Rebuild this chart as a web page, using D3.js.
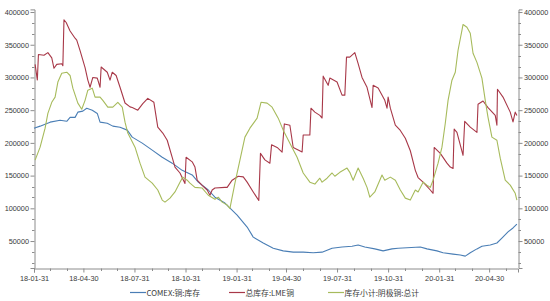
<!DOCTYPE html>
<html><head><meta charset="utf-8">
<script src="https://cdn.jsdelivr.net/npm/d3@7"></script>
<style>body{margin:0;background:#fff}svg{display:block}</style>
</head><body>
<script>
// ---- data ----
const comexDates = ["2018-01-31","2018-02-11","2018-03-01","2018-03-19","2018-03-31","2018-04-06","2018-04-15","2018-04-20","2018-04-29","2018-05-06","2018-05-16","2018-05-25","2018-05-30","2018-06-12","2018-06-22","2018-07-05","2018-07-18","2018-07-27","2018-08-14","2018-09-01","2018-09-19","2018-10-07","2018-10-25","2018-11-12","2018-11-23","2018-12-11","2018-12-23","2019-01-10","2019-02-01","2019-02-19","2019-03-02","2019-03-20","2019-04-07","2019-04-25","2019-05-13","2019-05-31","2019-06-18","2019-07-04","2019-07-22","2019-08-09","2019-08-27","2019-09-07","2019-09-19","2019-10-07","2019-10-22","2019-11-07","2019-11-18","2019-12-28","2020-01-09","2020-01-27","2020-02-07","2020-02-25","2020-03-09","2020-03-18","2020-03-27","2020-04-08","2020-04-17","2020-05-02","2020-05-14","2020-05-23","2020-06-03","2020-06-12","2020-06-19"];
const comexValues = [222500,225600,231700,234700,233000,239000,239000,247000,248500,253000,250000,245000,231700,230000,225600,224000,219500,208800,199600,189000,178000,169000,158000,151000,140000,128000,117000,108000,89700,71400,56000,47000,39000,35000,33000,33000,32000,33000,39000,41000,42000,44000,41000,38000,35000,38000,39000,41000,38000,35000,32000,30000,28600,27000,32000,38000,42000,44000,47000,54600,64000,70000,76000];

const lmeDates = ["2018-02-02","2018-02-06","2018-02-08","2018-02-18","2018-02-25","2018-03-04","2018-03-08","2018-03-13","2018-03-22","2018-03-24","2018-03-26","2018-03-30","2018-04-06","2018-04-15","2018-04-18","2018-04-24","2018-05-03","2018-05-08","2018-05-12","2018-05-17","2018-05-25","2018-05-30","2018-06-01","2018-06-12","2018-06-17","2018-06-21","2018-06-28","2018-07-05","2018-07-14","2018-07-23","2018-07-27","2018-08-06","2018-08-15","2018-08-24","2018-09-04","2018-09-11","2018-09-20","2018-09-28","2018-10-07","2018-10-12","2018-10-21","2018-10-30","2018-11-01","2018-11-12","2018-11-17","2018-11-21","2018-11-30","2018-12-09","2018-12-14","2018-12-18","2018-12-23","2019-01-10","2019-01-14","2019-01-23","2019-02-03","2019-02-12","2019-02-19","2019-03-02","2019-03-12","2019-03-15","2019-03-23","2019-04-01","2019-04-04","2019-04-14","2019-04-23","2019-04-27","2019-05-07","2019-05-13","2019-05-22","2019-05-29","2019-05-31","2019-06-12","2019-06-14","2019-06-21","2019-06-30","2019-07-04","2019-07-06","2019-07-15","2019-07-18","2019-07-31","2019-08-09","2019-08-14","2019-08-17","2019-08-23","2019-09-01","2019-09-07","2019-09-14","2019-09-23","2019-10-02","2019-10-04","2019-10-13","2019-10-25","2019-10-29","2019-10-31","2019-11-04","2019-11-13","2019-11-22","2019-12-01","2019-12-10","2019-12-19","2019-12-24","2020-01-02","2020-01-15","2020-01-20","2020-01-22","2020-02-02","2020-02-14","2020-02-20","2020-02-25","2020-02-27","2020-03-03","2020-03-14","2020-03-17","2020-03-27","2020-04-08","2020-04-10","2020-04-19","2020-04-28","2020-05-11","2020-05-14","2020-05-15","2020-05-25","2020-06-07","2020-06-12","2020-06-16","2020-06-19"];
const lmeValues = [320000,296000,335000,334000,338000,330000,314000,320000,321000,318000,388000,384000,371000,360000,357000,341000,315000,296000,285000,300000,299000,285000,316000,308000,296000,308000,303000,285000,261000,255000,254000,250000,260000,268000,262000,224000,215000,204000,178000,163000,154000,138000,178000,171000,163000,143000,135000,128000,120000,128000,131000,132000,132000,143000,149000,148000,140000,125000,112000,184000,174000,169000,197000,193000,186000,229000,227000,193000,189000,186000,212000,212000,253000,247000,242000,238000,302000,288000,299000,293000,273000,273000,331000,331000,338000,321000,300000,285000,254000,288000,284000,265000,253000,270000,253000,227000,219000,207000,188000,158000,147000,140000,128000,123000,193000,184000,169000,163000,161000,221000,216000,181000,233000,224000,216000,259000,264000,254000,242000,227000,282000,270000,247000,232000,247000,242000];

const cathodeDates = ["2018-02-02","2018-02-11","2018-02-20","2018-02-25","2018-03-04","2018-03-10","2018-03-15","2018-03-22","2018-03-31","2018-04-06","2018-04-11","2018-04-20","2018-04-27","2018-05-03","2018-05-08","2018-05-16","2018-05-21","2018-05-30","2018-06-04","2018-06-13","2018-06-22","2018-07-01","2018-07-09","2018-07-14","2018-07-19","2018-08-01","2018-08-10","2018-08-19","2018-09-01","2018-09-11","2018-09-19","2018-09-24","2018-10-03","2018-10-12","2018-10-21","2018-10-26","2018-11-03","2018-11-08","2018-11-17","2018-11-30","2018-12-11","2018-12-23","2018-12-29","2019-01-05","2019-01-14","2019-01-19","2019-01-28","2019-02-06","2019-02-15","2019-02-24","2019-03-09","2019-03-16","2019-03-27","2019-04-05","2019-04-16","2019-04-25","2019-05-07","2019-05-20","2019-05-31","2019-06-12","2019-06-21","2019-06-30","2019-07-04","2019-07-13","2019-07-22","2019-07-27","2019-08-05","2019-08-18","2019-08-23","2019-08-29","2019-09-07","2019-09-16","2019-09-23","2019-09-28","2019-10-07","2019-10-20","2019-10-25","2019-11-04","2019-11-13","2019-11-22","2019-12-01","2019-12-10","2019-12-19","2019-12-24","2020-01-02","2020-01-09","2020-01-15","2020-01-20","2020-01-29","2020-02-05","2020-02-11","2020-02-16","2020-02-23","2020-02-29","2020-03-05","2020-03-12","2020-03-14","2020-03-21","2020-03-27","2020-04-01","2020-04-08","2020-04-17","2020-04-23","2020-04-28","2020-05-05","2020-05-14","2020-05-20","2020-05-29","2020-06-07","2020-06-16","2020-06-19"];
const cathodeValues = [173700,193500,222500,245000,262000,270000,293000,306500,308000,303000,283600,260700,251500,265000,280500,283600,270000,270000,265000,254600,254600,262000,254600,231700,215000,193500,169000,147700,138500,128000,112600,109500,115600,125000,140000,147700,143000,138500,132000,131000,120000,114000,117000,109500,105000,100000,138500,173700,208800,222500,237800,262000,260700,254600,237800,219500,199600,178000,154000,140000,137000,146000,140000,146000,154000,149000,155000,161500,155000,143000,161500,146000,132000,117000,125000,151000,143000,147700,143000,128000,115600,112600,128000,125000,140000,135500,132000,143000,169000,193500,230000,265000,295800,308000,341600,372000,381000,376700,367600,337000,323000,299000,265000,239000,208800,204000,176700,143000,135500,123000,112600];

const yTicks = [50000,100000,150000,200000,250000,300000,350000,400000];
const xTickLabels = ["18-01-31","18-04-30","18-07-31","18-10-31","19-01-31","19-04-30","19-07-31","19-10-31","20-01-31","20-04-30"];
const seriesNames = ["COMEX:铜:库存","总库存:LME铜","库存小计:阴极铜:总计"];
const seriesColors = ["#4a7eb5","#a83848","#a7bb5c"];

// ---- chart ----
const W = 550, H = 301;
const parse = d3.timeParse("%Y-%m-%d");
const parseTick = d3.timeParse("%y-%m-%d");
const svg = d3.select("body").append("svg").attr("width", W).attr("height", H);

const x = d3.scaleTime().domain([parse("2018-01-31"), parse("2020-06-21")]).range([34, 518]);
const y = d3.scaleLinear().domain([8800, 404000]).range([268, 9.4]);

const fontNum = "'Liberation Sans', Arial, sans-serif";
const axisColor = "#8c8c8c";
const textColor = "#3a3a3a";

// minor y ticks
const yMinor = d3.range(1, 24).map(i => i * 50000 / 3).filter(v => v > 8800 && v < 404000 && Math.abs(v % 50000) > 1);

function styleAxis(g) {
  g.selectAll("path.domain").attr("stroke", axisColor);
  g.selectAll(".tick line").attr("stroke", axisColor);
  g.selectAll(".tick text").attr("fill", textColor).style("font-family", fontNum).style("font-size", "7.3px");
}

// left axis
const gl = svg.append("g").attr("transform", "translate(34.5,0)")
  .call(d3.axisLeft(y).tickValues(yTicks).tickFormat(d3.format("d")).tickSizeOuter(0).tickSize(4).tickPadding(1.5));
styleAxis(gl);
gl.selectAll(".minor").data(yMinor).join("line").attr("class", "minor")
  .attr("x1", -2.5).attr("x2", 0).attr("y1", d => Math.round(y(d)) + 0.5).attr("y2", d => Math.round(y(d)) + 0.5)
  .attr("stroke", axisColor);

// right axis
const gr = svg.append("g").attr("transform", "translate(518.5,0)")
  .call(d3.axisRight(y).tickValues(yTicks).tickFormat(d3.format("d")).tickSizeOuter(0).tickSize(4).tickPadding(1.5));
styleAxis(gr);
gr.selectAll(".minor").data(yMinor).join("line").attr("class", "minor")
  .attr("x1", 0).attr("x2", 2.5).attr("y1", d => Math.round(y(d)) + 0.5).attr("y2", d => Math.round(y(d)) + 0.5)
  .attr("stroke", axisColor);

// bottom axis
const xMajor = xTickLabels.map(s => parseTick(s));
const gb = svg.append("g").attr("transform", "translate(0,268.5)")
  .call(d3.axisBottom(x).tickValues(xMajor).tickFormat(d3.timeFormat("%y-%m-%d")).tickSizeOuter(0).tickSize(4).tickPadding(3));
styleAxis(gb);
const monthEnds = d3.timeMonth.range(parse("2018-02-01"), parse("2020-07-01")).map(d => d3.timeDay.offset(d3.timeMonth.offset(d, 1), -1))
  .filter(d => d <= x.domain()[1] && !xMajor.some(m => +m === +d));
gb.selectAll(".minor").data(monthEnds).join("line").attr("class", "minor")
  .attr("x1", d => Math.round(x(d)) + 0.5).attr("x2", d => Math.round(x(d)) + 0.5).attr("y1", 0).attr("y2", 2.5)
  .attr("stroke", axisColor);

// lines
const plot = svg.append("g");
const series = [
  {dates: comexDates, values: comexValues},
  {dates: lmeDates, values: lmeValues},
  {dates: cathodeDates, values: cathodeValues}
];
const line = d3.line().x(d => x(d[0])).y(d => y(d[1]));
series.forEach((s, i) => {
  const pts = s.dates.map((d, j) => [parse(d), s.values[j]]);
  plot.append("path").datum(pts).attr("d", line).attr("fill", "none")
    .attr("stroke", seriesColors[i]).attr("stroke-width", 1.1).attr("stroke-linejoin", "round");
});

// legend
const legendX = [130, 229, 328];
const lg = svg.append("g");
seriesNames.forEach((name, i) => {
  lg.append("line").attr("x1", legendX[i]).attr("x2", legendX[i] + 16).attr("y1", 292.5).attr("y2", 292.5)
    .attr("stroke", seriesColors[i]).attr("stroke-width", 1.2);
  lg.append("text").attr("x", legendX[i] + 16.5).attr("y", 295.5).text(name)
    .attr("fill", textColor).style("font-family", "'Noto Sans CJK SC', sans-serif").style("font-size", "7.8px");
});
</script>
</body></html>
